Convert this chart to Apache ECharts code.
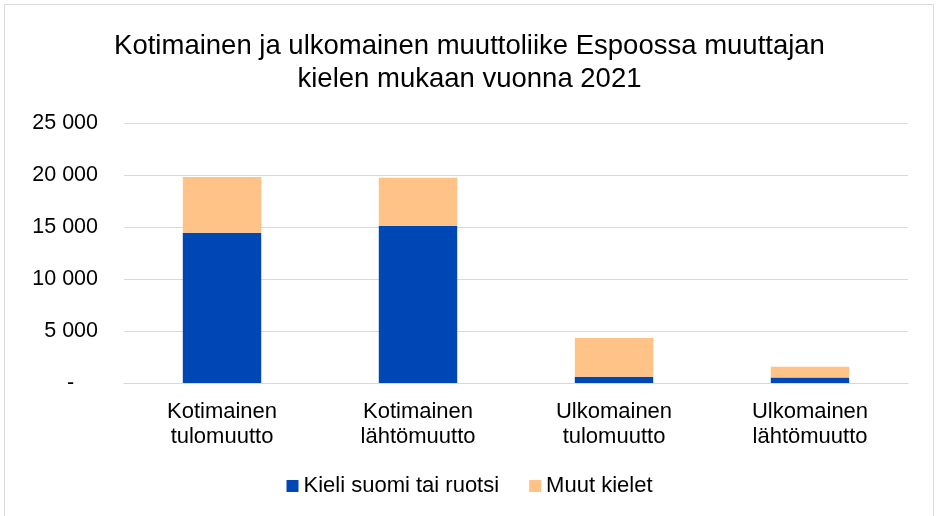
<!DOCTYPE html>
<html>
<head>
<meta charset="utf-8">
<script src="https://cdn.jsdelivr.net/npm/echarts@6/dist/echarts.min.js"></script>
<style>
  html, body { margin: 0; padding: 0; background: #fff; }
  #chart { width: 939px; height: 516px; }
</style>
</head>
<body>
<div id="chart"></div>
<script>
// muuton tyypit
const kategoriat = ['Kotimainen\ntulomuutto', 'Kotimainen\nlähtömuutto', 'Ulkomainen\ntulomuutto', 'Ulkomainen\nlähtömuutto'];
const suomiRuotsi = [14450, 15120, 600, 540];
const muutKielet = [5350, 4610, 3720, 1020];

const chart = echarts.init(document.getElementById('chart'));

chart.setOption({
    animation: false,
    textStyle: { fontFamily: 'Liberation Sans, Arial, sans-serif' },
    title: {
        text: 'Kotimainen ja ulkomainen muuttoliike Espoossa muuttajan\nkielen mukaan vuonna 2021',
        left: 'center',
        top: 25,
        textStyle: { fontSize: 27.5, fontWeight: 'normal', color: '#000', lineHeight: 33 }
    },
    graphic: [{
        type: 'rect',
        shape: { x: 4.5, y: 4.5, width: 929, height: 520 },
        style: { fill: 'none', stroke: '#d9d9d9', lineWidth: 1 },
        silent: true
    }],
    legend: {
        bottom: 14,
        left: 'center',
        itemWidth: 12,
        itemHeight: 12,
        itemGap: 30,
        icon: 'rect',
        textStyle: { fontSize: 22, color: '#000' },
        data: ['Kieli suomi tai ruotsi', 'Muut kielet']
    },
    grid: { left: 124, right: 31, top: 123, bottom: 133, containLabel: false },
    xAxis: {
        type: 'category',
        data: kategoriat,
        axisLine: { lineStyle: { color: '#d9d9d9', width: 1 } },
        axisTick: { show: false },
        axisLabel: { fontSize: 22, color: '#000', lineHeight: 25, margin: 16 }
    },
    yAxis: {
        type: 'value',
        min: 0,
        max: 25000,
        interval: 5000,
        axisLine: { show: false },
        axisTick: { show: false },
        splitLine: { lineStyle: { color: '#d9d9d9', width: 1 } },
        axisLabel: {
            fontSize: 21.5,
            color: '#000',
            margin: 26,
            formatter: v => v === 0 ? '-    ' : String(v).replace(/\B(?=(\d{3})+(?!\d))/g, ' ')
        }
    },
    series: [
        {
            name: 'Kieli suomi tai ruotsi',
            type: 'bar',
            stack: 'kieli',
            barWidth: '40%',
            itemStyle: { color: '#0047B6' },
            data: suomiRuotsi
        },
        {
            name: 'Muut kielet',
            type: 'bar',
            stack: 'kieli',
            barWidth: '40%',
            itemStyle: { color: '#FFC388' },
            data: muutKielet
        }
    ]
});
</script>
</body>
</html>
